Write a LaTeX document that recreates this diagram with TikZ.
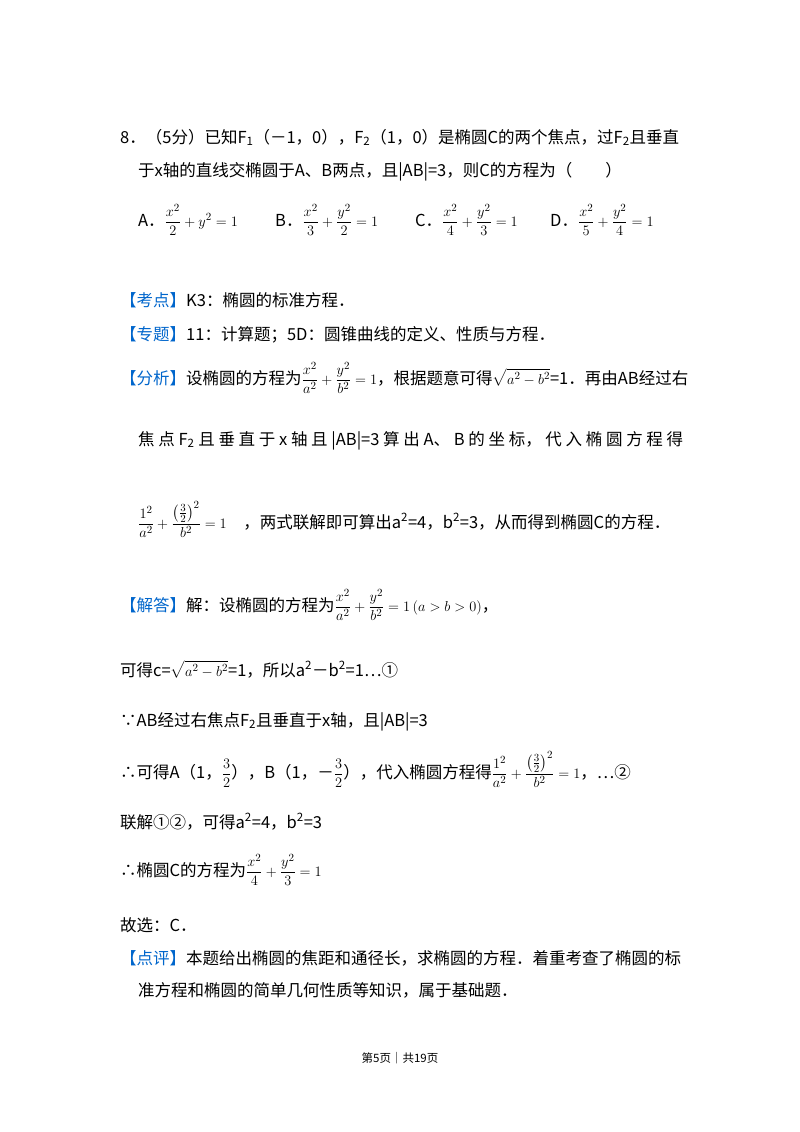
\documentclass[tikz,border=0pt]{standalone}
\usepackage{fontspec}
\setmainfont{Noto Sans CJK SC}
\usepackage{amsmath}
\definecolor{kb}{RGB}{0,102,204}
\newcommand{\kw}[1]{\textcolor{kb}{【#1】}}
\newcommand{\mf}[1]{{\fontsize{15.5}{17}\selectfont$\displaystyle #1$}}
\begin{document}
\begin{tikzpicture}[x=1pt,y=-1pt,every node/.style={anchor=base west,inner sep=0pt,font=\fontsize{16.5}{19}\selectfont}]
\useasboundingbox[fill=white] (0,0) rectangle (800,1132);
\node (l1) at (120,143) {8．（5分）已知F\textsubscript{1}（－1，0），F\textsubscript{2}（1，0）是椭圆C的两个焦点，过F\textsubscript{2}且垂直};
\node (l2) at (138,176) {于x轴的直线交椭圆于A、B两点，且|AB|=3，则C的方程为（\quad\quad）};
\node (oa) at (138,226) {A．\mf{\frac{x^2}{2}+y^2=1}};
\node (ob) at (275,226) {B．\mf{\frac{x^2}{3}+\frac{y^2}{2}=1}};
\node (oc) at (415,226) {C．\mf{\frac{x^2}{4}+\frac{y^2}{3}=1}};
\node (od) at (550,226) {D．\mf{\frac{x^2}{5}+\frac{y^2}{4}=1}};
\node (k1) at (120,306) {\kw{考点}K3：椭圆的标准方程．};
\node (k2) at (120,340) {\kw{专题}11：计算题；5D：圆锥曲线的定义、性质与方程．};
\node (k3) at (120,384) {\kw{分析}设椭圆的方程为\mf{\frac{x^2}{a^2}+\frac{y^2}{b^2}=1}，根据题意可得\mf{\sqrt{a^2-b^2}}=1．再由AB经过右};
\node (k4) at (138,445) {\makebox[545pt]{焦\hfill 点\hfill F\textsubscript{2}\hfill 且\hfill 垂\hfill 直\hfill 于\hfill x\hfill 轴\hfill 且\hfill |AB|=3\hfill 算\hfill 出\hfill A、\hfill B\hfill 的\hfill 坐\hfill 标，\hfill 代\hfill 入\hfill 椭\hfill 圆\hfill 方\hfill 程\hfill 得}};
\node (k5) at (138,528) {\mf{\frac{1^2}{a^2}+\frac{\left(\frac{3}{2}\right)^2}{b^2}=1}\quad ，两式联解即可算出a\textsuperscript{2}=4，b\textsuperscript{2}=3，从而得到椭圆C的方程．};
\node (j1) at (120,611) {\kw{解答}解：设椭圆的方程为\mf{\frac{x^2}{a^2}+\frac{y^2}{b^2}=1\,(a>b>0)}，};
\node (j2) at (120,676) {可得c=\mf{\sqrt{a^2-b^2}}=1，所以a\textsuperscript{2}－b\textsuperscript{2}=1…①};
\node (j3) at (120,726) {∵AB经过右焦点F\textsubscript{2}且垂直于x轴，且|AB|=3};
\node (j4) at (120,778) {∴可得A（1，\mf{\frac{3}{2}}），B（1，－\mf{\frac{3}{2}}），代入椭圆方程得\mf{\frac{1^2}{a^2}+\frac{\left(\frac{3}{2}\right)^2}{b^2}=1}，…②};
\node (j5) at (120,828) {联解①②，可得a\textsuperscript{2}=4，b\textsuperscript{2}=3};
\node (j6) at (120,876) {∴椭圆C的方程为\mf{\frac{x^2}{4}+\frac{y^2}{3}=1}};
\node (j7) at (120,931) {故选：C．};
\node (p1) at (120,964) {\kw{点评}本题给出椭圆的焦距和通径长，求椭圆的方程．着重考查了椭圆的标};
\node (p2) at (138,996) {准方程和椭圆的简单几何性质等知识，属于基础题．};
\node[anchor=base,font=\fontsize{11.5}{13}\selectfont] (pg) at (400,1062) {第5页｜共19页};
\end{tikzpicture}
\end{document}
